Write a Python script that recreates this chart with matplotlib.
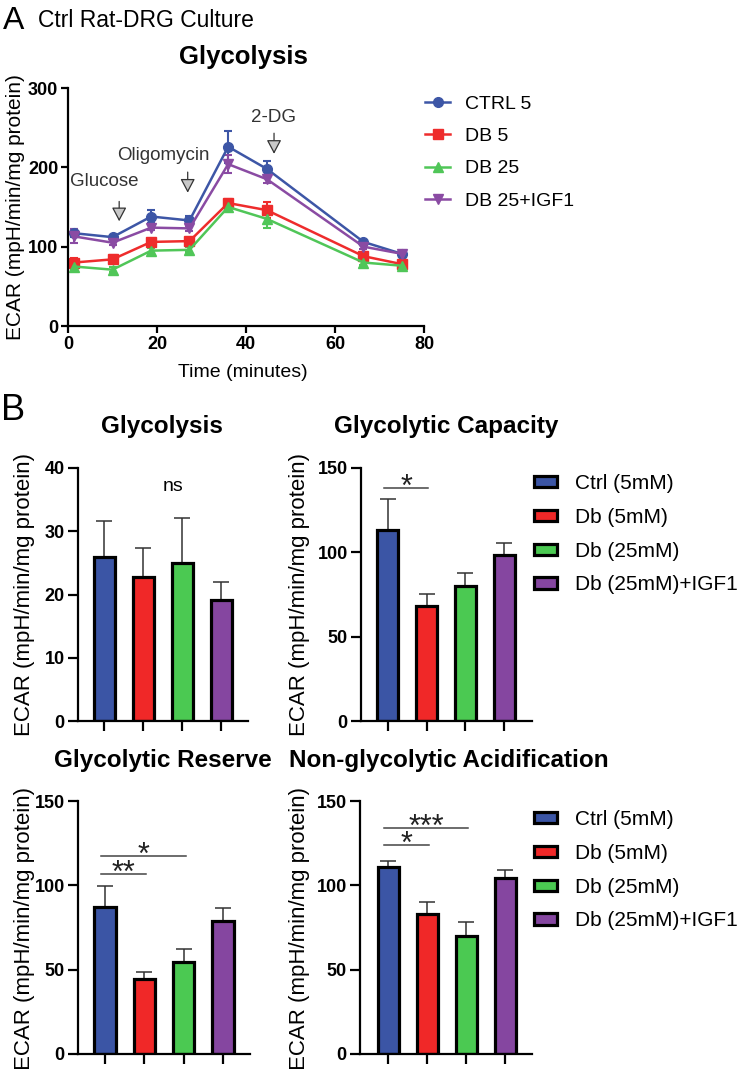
import matplotlib
matplotlib.use("Agg")
import matplotlib.pyplot as plt
from matplotlib.lines import Line2D
from matplotlib.patches import Patch
from matplotlib.transforms import offset_copy

plt.rcParams['font.family'] = ['Liberation Sans', 'DejaVu Sans']

W, H = 738, 1069

# ---- Panel A: ECAR time course ----
time_min = [1.3, 10, 18.7, 27.3, 36, 44.7, 66.4, 75]
ctrl5 = [117, 112, 138, 133, 226, 198, 106, 91]
ctrl5_err = [5, 3, 8, 6, 20, 10, 3, 3]
db5 = [80, 84, 106, 107, 155, 146, 88, 78]
db5_err = [6, 5, 4, 4, 5, 10, 4, 3]
db25 = [75, 71, 95, 96, 150, 135, 80, 76]
db25_err = [3, 3, 3, 3, 4, 12, 3, 3]
db25_igf = [113, 105, 124, 123, 204, 185, 100, 91]
db25_igf_err = [9, 3, 3, 3, 11, 5, 3, 3]
line_labels = ['CTRL 5', 'DB 5', 'DB 25', 'DB 25+IGF1']

injections = ['Glucose', 'Oligomycin', '2-DG']
inj_time = [11.5, 26.9, 46.3]

# ---- Panel B: bar summaries ----
groups = ['Ctrl (5mM)', 'Db (5mM)', 'Db (25mM)', 'Db (25mM)+IGF1']
glycolysis = [26, 22.8, 25, 19.2]
glycolysis_err = [5.6, 4.5, 7.1, 2.7]
capacity = [113, 68.2, 80, 98.2]
capacity_err = [18.5, 7.3, 7.6, 7.5]
reserve = [87, 44.4, 54.4, 79]
reserve_err = [12.8, 4.3, 7.9, 7.7]
nonglyc = [111, 83, 70.2, 104.1]
nonglyc_err = [3.6, 7.1, 7.9, 4.9]

# significance: (group i, group j, y, label)
sig_capacity = [(0, 1, 138, '*')]
sig_reserve = [(0, 1, 106.5, '**'), (0, 2, 117.5, '*')]
sig_nonglyc = [(0, 1, 123.7, '*'), (0, 2, 134.1, '***')]

line_colors = ['#3d56a6', '#ee2c2c', '#50c658', '#8a4ba3']
bar_colors = ['#3b55a5', '#f02828', '#4bc952', '#8546a0']
markers = ['o', 's', '^', 'v']


def rect(x0, y0, x1, y1):
    # pixel box (left, top, right, bottom) -> figure fraction
    return [x0 / W, 1 - y1 / H, (x1 - x0) / W, (y1 - y0) / H]


def fx(x):
    return x / W


def fy(y):
    return 1 - y / H


def style_axes(ax, tlen):
    for s in ['top', 'right']:
        ax.spines[s].set_visible(False)
    for s in ['left', 'bottom']:
        ax.spines[s].set_linewidth(1.6)
    ax.tick_params(width=1.6, length=tlen, labelsize=13, pad=2)
    for lab in ax.get_yticklabels() + ax.get_xticklabels():
        lab.set_fontweight('bold')


fig = plt.figure(figsize=(W / 100, H / 100), dpi=100)

fig.text(fx(3), fy(29), 'A', fontsize=23, va='baseline', ha='left')
fig.text(fx(38), fy(27), 'Ctrl Rat-DRG Culture', fontsize=16.5, va='baseline', ha='left')

axA = fig.add_axes(rect(68, 88, 424, 326))
series = [(ctrl5, ctrl5_err), (db5, db5_err), (db25, db25_err), (db25_igf, db25_igf_err)]
for (vals, errs), c, m, lab in zip(series, line_colors, markers, line_labels):
    axA.errorbar(time_min, vals, yerr=errs, color=c, marker=m, markersize=7,
                 lw=1.8, capsize=3, elinewidth=1.5, capthick=1.5, label=lab)
axA.set_xlim(0, 80)
axA.set_ylim(0, 300)
axA.set_xticks([0, 20, 40, 60, 80])
axA.set_yticks([0, 100, 200, 300])
style_axes(axA, 5)

inj_y = [(132, 157), (168, 194), (217, 243)]
for name, t, (ytip, ytop) in zip(injections, inj_time, inj_y):
    axA.annotate('', xy=(t, ytip), xytext=(t, ytop),
                 arrowprops=dict(arrowstyle='-|>,head_length=0.85,head_width=0.45',
                                 fc='#c8c8c8', ec='#333333', lw=0.9,
                                 shrinkA=0, shrinkB=0))
fig.text(fx(104), fy(182), injections[0], fontsize=13.5, color='#333333', ha='center', va='center')
fig.text(fx(163), fy(156), injections[1], fontsize=13.5, color='#333333', ha='center', va='center')
fig.text(fx(273), fy(118), injections[2], fontsize=13.5, color='#333333', ha='center', va='center')

fig.text(fx(243), fy(57), 'Glycolysis', fontsize=18.5, fontweight='bold', ha='center', va='center')
fig.text(fx(243), fy(372), 'Time (minutes)', fontsize=14, ha='center', va='center')
fig.text(fx(16), fy(207), 'ECAR (mpH/min/mg protein)', fontsize=15, rotation=90,
         ha='center', va='center')

handles = [Line2D([0], [0], color=c, marker=m, markersize=7, lw=1.8)
           for c, m in zip(line_colors, markers)]
fig.legend(handles, line_labels, loc='upper left', bbox_to_anchor=(fx(425), fy(95)),
           frameon=False, fontsize=14, handlelength=1.3, handletextpad=0.75,
           labelspacing=0.76, borderpad=0, borderaxespad=0)

# ---- Panel B ----
fig.text(fx(1), fy(420), 'B', fontsize=26, va='baseline', ha='left')

pos = list(range(len(groups)))


def bar_panel(box, vals, errs, ymax, ystep, xlim, title, title_xy, sigs=None):
    ax = fig.add_axes(rect(*box))
    ax.bar(pos, vals, width=0.54, color=bar_colors, edgecolor='black', linewidth=2.3, zorder=2)
    ax.errorbar(pos, vals, yerr=[[0] * len(errs), errs], fmt='none', ecolor='#333333',
                elinewidth=1.1, capsize=5.5, capthick=1.1, zorder=1)
    ax.set_ylim(0, ymax)
    ax.set_yticks(range(0, ymax + 1, ystep))
    ax.set_xlim(*xlim)
    ax.set_xticks(pos)
    ax.set_xticklabels([])
    style_axes(ax, 7.5)
    star_tr = offset_copy(ax.transData, fig=fig, x=0, y=-5.5, units='points')
    for i, j, y, lab in (sigs or []):
        x1, x2 = i - 0.1, j + 0.05
        ax.plot([x1, x2], [y, y], color='#444444', lw=1.1, clip_on=False)
        ax.text((x1 + x2) / 2, y, lab, fontsize=22, ha='center', va='baseline',
                color='#222222', transform=star_tr)
    fig.text(fx(title_xy[0]), fy(title_xy[1]), title, fontsize=17.5, fontweight='bold',
             ha='center', va='center')
    return ax


ax1 = bar_panel((78, 468, 248, 721), glycolysis, glycolysis_err, 40, 10, (-0.67, 3.69),
                'Glycolysis', (162, 427))
ax1.text(1.77, 37, 'ns', fontsize=14, ha='center', va='center')
ax2 = bar_panel((361, 468, 532, 721), capacity, capacity_err, 150, 50, (-0.69, 3.72),
                'Glycolytic Capacity', (446, 427), sig_capacity)
ax3 = bar_panel((78, 801, 250, 1054), reserve, reserve_err, 150, 50, (-0.69, 3.69),
                'Glycolytic Reserve', (163, 760), sig_reserve)
ax4 = bar_panel((360, 801, 532, 1054), nonglyc, nonglyc_err, 150, 50, (-0.72, 3.68),
                'Non-glycolytic Acidification', (449, 760), sig_nonglyc)

for x, yc in [(25, 594), (300, 594), (25, 928), (300, 928)]:
    fig.text(fx(x), fy(yc), 'ECAR (mpH/min/mg protein)', fontsize=16, rotation=90,
             ha='center', va='center')

bar_handles = [Patch(facecolor=c, edgecolor='black', linewidth=2.3) for c in bar_colors]
for ytop in [474, 810]:
    fig.legend(bar_handles, groups, loc='upper left', bbox_to_anchor=(fx(534), fy(ytop)),
               frameon=False, fontsize=15, handlelength=1.1, handleheight=0.45,
               handletextpad=0.85, labelspacing=0.71, borderpad=0, borderaxespad=0)

fig.savefig('out.png', dpi=100)
